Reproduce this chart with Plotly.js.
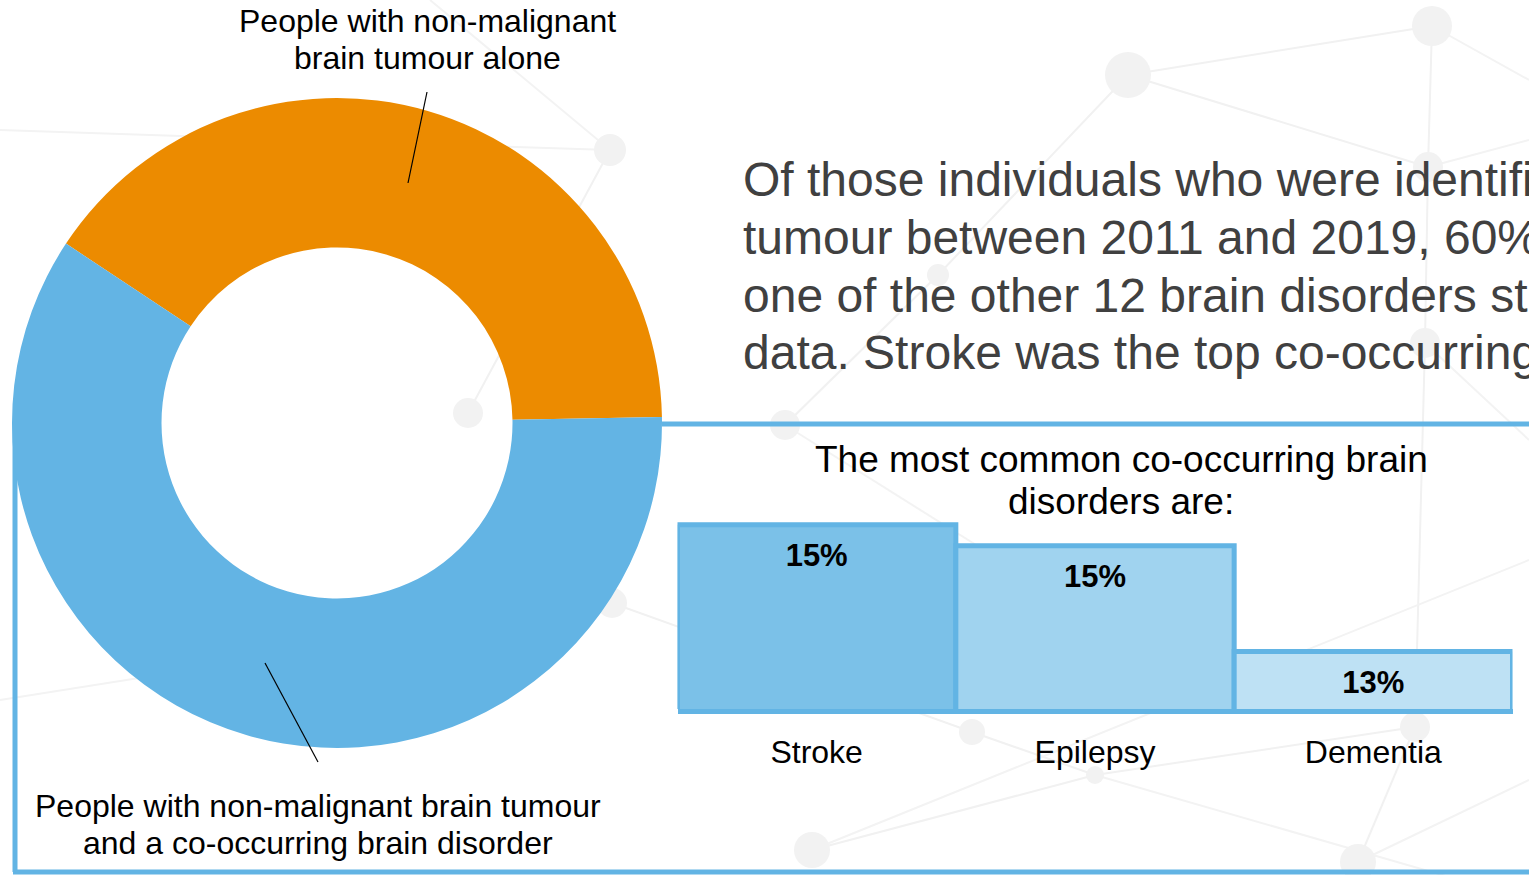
<!DOCTYPE html>
<html>
<head>
<meta charset="utf-8">
<script src="https://cdn.plot.ly/plotly-3.0.1.min.js"></script>
<style>html,body{margin:0;padding:0;background:#fff;overflow:hidden}#chart{width:1529px;height:875px}</style>
</head>
<body>
<div id="chart"></div>
<script>
// ---- data ----
const donutLabels = ["People with non-malignant brain tumour alone", "People with non-malignant brain tumour and a co-occurring brain disorder"];
const donutValues = [40.4, 59.6];
const disorders = ["Stroke", "Epilepsy", "Dementia"];
const disorderShare = [15.4, 15.0, 13.0];
const paragraphLines = [
  "Of those individuals who were identified with a non-malignant brain",
  "tumour between 2011 and 2019, 60% also had at least",
  "one of the other 12 brain disorders studied in our",
  "data. Stroke was the top co-occurring condition."
];
const barTitle = ["The most common co-occurring brain", "disorders are:"];
const topLabel = ["People with non-malignant", "brain tumour alone"];
const bottomLabel = ["People with non-malignant brain tumour", "and a co-occurring brain disorder"];

// ---- styles ----
const W = 1529, H = 875;
const px = v => v / W, py = v => 1 - v / H;
const SANS = "Liberation Sans, Arial, sans-serif";
const frameBlue = "#62b4e4";

const donut = {
  type: "pie",
  labels: donutLabels,
  values: donutValues,
  hole: 0.54,
  sort: false,
  direction: "clockwise",
  rotation: -56.5,
  textinfo: "none",
  hoverinfo: "label+percent",
  marker: {colors: ["#ec8b00", "#63b4e4"], line: {width: 0}},
  domain: {x: [px(12), px(662)], y: [py(748), py(98)]},
  showlegend: false
};

const bars = {
  type: "bar",
  x: disorders,
  y: disorderShare,
  marker: {color: ["#7bc1e8", "#a0d3ef", "#bee1f4"], line: {color: frameBlue, width: 5}},
  hoverinfo: "x+y",
  showlegend: false
};

const barValues = {
  type: "scatter",
  mode: "markers+text",
  x: disorders,
  y: disorderShare,
  text: disorderShare.map(v => Math.round(v) + "%"),
  textposition: "bottom center",
  textfont: {family: SANS, size: 31, color: "#000", weight: "bold"},
  marker: {size: 27, color: "rgba(0,0,0,0)", line: {width: 0}},
  cliponaxis: false,
  hoverinfo: "skip",
  showlegend: false
};

// faint background network (decoration)
const nodes = [[1128,75,23],[1432,26,20],[610,150,16],[1428,167,15],[1425,343,15],[938,275,11],[785,425,15],[468,413,15],[612,603,15],[972,732,13],[1095,775,9],[812,850,18],[1358,862,18],[1415,727,15]];
const links = [[0,1],[0,3],[1,3],[3,4],[0,5],[5,6],[2,7],[9,10],[10,13],[11,10],[4,13],[12,13],[8,9]];
const shapes = [];
links.forEach(([a,b]) => {
  shapes.push({type:"line", xref:"paper", yref:"paper", layer:"below",
    x0:px(nodes[a][0]), y0:py(nodes[a][1]), x1:px(nodes[b][0]), y1:py(nodes[b][1]),
    line:{color:"#f1f1f1", width:2}});
});
[[1432,26,1529,80],[1428,167,1529,140],[0,130,610,150],[610,150,430,0],[612,603,0,700],[812,850,1529,560],[1095,775,1529,900],[1358,862,1529,780],[1425,343,1529,440],[785,425,1000,560]].forEach(l => {
  shapes.push({type:"line", xref:"paper", yref:"paper", layer:"below",
    x0:px(l[0]), y0:py(l[1]), x1:px(l[2]), y1:py(l[3]), line:{color:"#f3f3f3", width:2}});
});
nodes.forEach(([x,y,r]) => {
  shapes.push({type:"circle", xref:"paper", yref:"paper", layer:"below",
    x0:px(x-r), x1:px(x+r), y0:py(y+r), y1:py(y-r),
    fillcolor:"#f2f2f2", line:{width:0}});
});
// frame
shapes.push({type:"line", xref:"paper", yref:"paper", x0:px(662), y0:py(424), x1:1.01, y1:py(424), line:{color:frameBlue, width:5}});
shapes.push({type:"line", xref:"paper", yref:"paper", layer:"below", x0:px(15), y0:py(424), x1:px(15), y1:py(872), line:{color:frameBlue, width:5}});
shapes.push({type:"line", xref:"paper", yref:"paper", x0:px(13), y0:py(872), x1:1.01, y1:py(872), line:{color:frameBlue, width:5}});
// leader lines
shapes.push({type:"line", xref:"paper", yref:"paper", x0:px(427), y0:py(92), x1:px(408), y1:py(183), line:{color:"#000", width:1.2}});
shapes.push({type:"line", xref:"paper", yref:"paper", x0:px(265), y0:py(663), x1:px(318), y1:py(762), line:{color:"#000", width:1.2}});

const annotations = [];
function addLines(lines, x, ys, anchor, font) {
  lines.forEach((t, i) => annotations.push({xref:"paper", yref:"paper", x:px(x), y:py(ys[i]),
    xanchor:anchor, yanchor:"middle", showarrow:false, text:t, font:font}));
}
addLines(topLabel, 427, [21, 58], "center", {family:SANS, size:32, color:"#000"});
addLines(bottomLabel, 318, [806, 843], "center", {family:SANS, size:32, color:"#000"});
addLines(paragraphLines, 741, [179.5, 237.5, 295.5, 352.5], "left", {family:SANS, size:48, color:"#404040"});
addLines(barTitle, 1121, [459, 501], "center", {family:SANS, size:37, color:"#000"});

const layout = {
  width: W, height: H,
  margin: {l:0, r:0, t:0, b:0},
  paper_bgcolor: "#fff", plot_bgcolor: "rgba(0,0,0,0)",
  bargap: 0,
  xaxis: {domain:[px(677.5), px(1512.5)], showgrid:false, zeroline:false,
          showline:true, linecolor:frameBlue, linewidth:5,
          ticks:"", ticklabelstandoff: 11, tickfont:{family:SANS, size:32, color:"#000"}, fixedrange:true},
  yaxis: {domain:[py(709), py(503.5)], range:[11.91, 15.8], showgrid:false, zeroline:false,
          showline:false, showticklabels:false, ticks:"", fixedrange:true},
  shapes: shapes,
  annotations: annotations,
  font: {family: SANS}
};

Plotly.newPlot("chart", [donut, bars, barValues], layout, {displayModeBar:false, staticPlot:true});
</script>
</body>
</html>
